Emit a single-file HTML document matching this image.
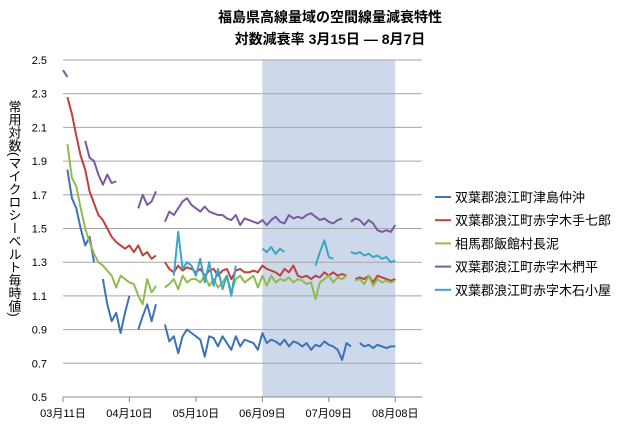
<!DOCTYPE html>
<html><head><meta charset="utf-8"><style>
body{margin:0;background:#fff;}
svg text{font-family:"Liberation Sans","Noto Sans CJK JP",sans-serif;}
</style></head><body>
<svg id="chart" width="640" height="432" viewBox="0 0 640 432">
<text x="330" y="22" text-anchor="middle" font-size="14" font-weight="bold">福島県高線量域の空間線量減衰特性</text>
<text x="330" y="44" text-anchor="middle" font-size="14" font-weight="bold">対数減衰率  3月15日  ―  8月7日</text>
<text x="14" y="100" font-size="13" style="writing-mode:vertical-rl">常用対数(マイクロシーベルト毎時値)</text>
<g id="grid"></g><g id="series"></g><g id="legend"></g>
</svg>
<script>
const xTickLabels=["03月11日","04月10日","05月10日","06月09日","07月09日","08月08日"];
const yTicks=[2.5,2.3,2.1,1.9,1.7,1.5,1.3,1.1,0.9,0.7,0.5];
const seriesNames=["双葉郡浪江町津島仲沖","双葉郡浪江町赤字木手七郎","相馬郡飯館村長泥","双葉郡浪江町赤字木椚平","双葉郡浪江町赤字木石小屋"];
const seriesColors=["#3d72b8","#c0403a","#92bb4c","#7a5aa3","#3aa6c8"];
const shadeRange=[90,150];
const N=null;
const blue=[N,1.85,1.68,1.62,1.50,1.40,1.45,1.30,N,1.20,1.05,0.95,1.00,0.88,1.00,1.10,N,0.90,0.98,1.05,0.95,1.05,N,0.93,0.83,0.86,0.76,0.86,0.90,0.88,0.86,0.84,0.74,0.86,0.85,0.80,0.86,0.82,0.78,0.86,0.80,0.84,0.83,0.82,0.78,0.88,0.82,0.84,0.83,0.81,0.84,0.80,0.83,0.82,0.80,0.82,0.78,0.81,0.80,0.83,0.81,0.80,0.78,0.72,0.82,0.80,N,0.82,0.80,0.81,0.79,0.81,0.80,0.79,0.80,0.80];
const red=[N,2.28,2.18,2.05,1.93,1.85,1.72,1.65,1.58,1.55,1.50,1.45,1.42,1.40,1.38,1.40,1.36,1.40,1.34,1.36,1.32,1.34,N,1.30,1.26,1.24,1.28,1.25,1.27,1.26,1.24,1.26,1.22,1.25,1.26,1.22,1.25,1.26,1.20,1.25,1.26,1.24,1.24,1.25,1.24,1.28,1.26,1.25,1.24,1.22,1.26,1.24,1.28,1.22,1.21,1.22,1.20,1.22,1.21,1.24,1.22,1.24,1.22,1.23,1.22,N,1.20,1.21,1.20,1.22,1.18,1.22,1.21,1.20,1.19,1.20];
const green=[N,2.0,1.80,1.75,1.62,1.50,1.42,1.35,1.30,1.28,1.25,1.22,1.15,1.22,1.20,1.18,1.17,1.10,1.05,1.20,1.12,1.16,N,1.15,1.17,1.20,1.14,1.22,1.18,1.20,1.20,1.18,1.22,1.16,1.20,1.15,1.18,1.22,1.12,1.20,1.22,1.18,1.20,1.22,1.15,1.22,1.16,1.22,1.18,1.20,1.19,1.21,1.18,1.20,1.19,1.17,1.18,1.08,1.18,1.20,1.22,1.18,1.21,1.20,1.22,N,1.19,1.20,1.17,1.22,1.16,1.20,1.18,1.19,1.18,1.19];
const purple=[2.44,2.40,N,N,N,2.02,1.92,1.90,1.82,1.76,1.82,1.77,1.78,N,N,N,N,1.62,1.70,1.64,1.66,1.72,N,1.54,1.60,1.58,1.62,1.66,1.68,1.64,1.62,1.60,1.63,1.60,1.59,1.58,1.58,1.56,1.55,1.58,1.52,1.56,1.55,1.54,1.53,1.55,1.52,1.55,1.57,1.54,1.53,1.58,1.56,1.57,1.56,1.58,1.59,1.57,1.55,1.56,1.54,1.53,1.55,1.56,N,1.54,1.56,1.55,1.52,1.55,1.53,1.49,1.48,1.49,1.48,1.52];
const cyan=[N,N,N,N,N,N,N,N,N,N,N,N,N,N,N,N,N,N,N,N,N,N,N,N,N,1.22,1.48,1.26,1.30,1.28,1.22,1.32,1.18,1.30,1.16,1.26,1.14,1.22,1.10,1.28,N,N,N,N,N,1.38,1.36,1.39,1.35,1.38,1.36,N,N,N,N,N,N,1.28,1.36,1.43,1.33,1.32,N,N,N,1.36,1.35,1.36,1.34,1.35,1.33,1.34,1.32,1.33,1.30,1.31];
const allSeries=[blue,red,green,purple,cyan];
const X0=63,PXD=2.215,Y0=397,PXV=168.5;
const xs=d=>X0+d*PXD, ys=v=>Y0-(v-0.5)*PXV;
const NS="http://www.w3.org/2000/svg";
function mk(t,a,p){const e=document.createElementNS(NS,t);for(const k in a)e.setAttribute(k,a[k]);p.appendChild(e);return e;}
const grid=document.getElementById('grid');
const sh=mk('rect',{x:xs(shadeRange[0]),y:ys(2.5),width:xs(shadeRange[1])-xs(shadeRange[0]),height:Y0-ys(2.5),fill:'#cdd9ea'},grid);


yTicks.forEach(v=>{
 const l=mk('line',{x1:X0,x2:422,y1:ys(v),y2:ys(v),stroke:v===0.5?'#888':'#a6a6a6','stroke-width':1},grid);
 
 
 const t=mk('text',{x:47,y:ys(v)+4,'text-anchor':'end','font-size':11},grid);t.textContent=v.toFixed(1);
 
 
});
xTickLabels.forEach((s,i)=>{
 const x=xs(i*30);
 mk('line',{x1:x,x2:x,y1:Y0,y2:Y0+5,stroke:'#888'},grid);
 const t=mk('text',{x:x,y:417,'text-anchor':'middle','font-size':11},grid);t.textContent=s;
 
 
});
const sg=document.getElementById('series');
allSeries.forEach((arr,si)=>{
 let d='',pen=false;
 arr.forEach((v,i)=>{if(v===null){pen=false;return;}d+=(pen?'L':'M')+xs(i*2).toFixed(1)+','+ys(v).toFixed(1);pen=true;});
 const p=mk('path',{d:d,fill:'none',stroke:seriesColors[si],'stroke-width':2,'stroke-linejoin':'round'},sg);
 
 
});
const lg=document.getElementById('legend');
seriesNames.forEach((n,i)=>{
 const y=197+i*23.2;
 const l=mk('line',{x1:435,x2:451,y1:y,y2:y,stroke:seriesColors[i],'stroke-width':2},lg);
 
 
 const t=mk('text',{x:455,y:y+5,'font-size':13},lg);t.textContent=n;
 
 
});
</script>
</body></html>
